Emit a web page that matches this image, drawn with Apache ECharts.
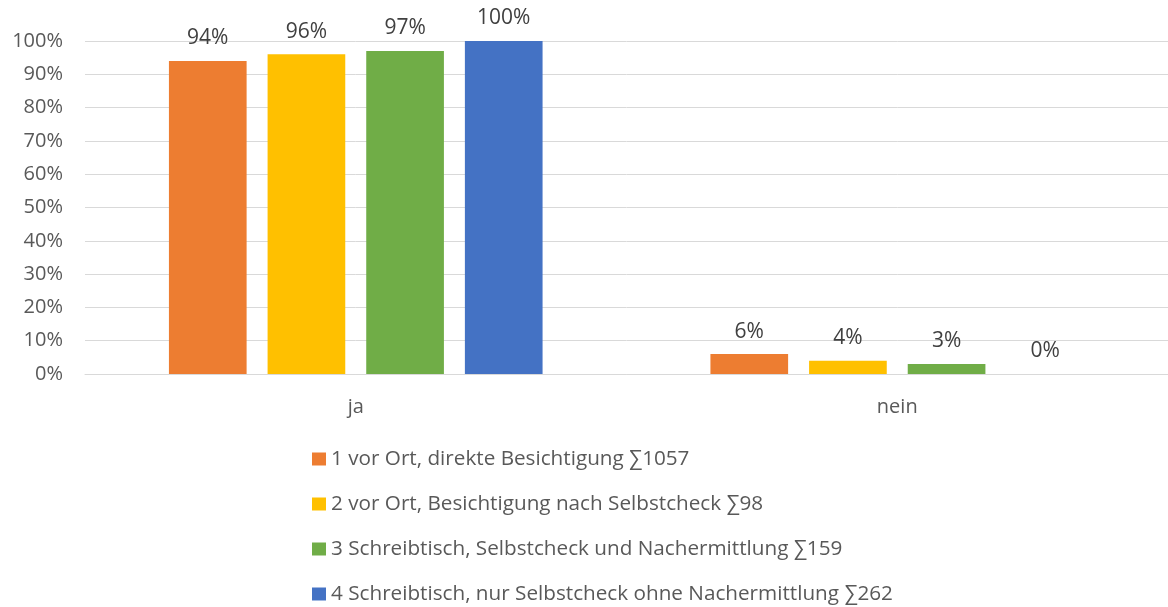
<!DOCTYPE html>
<html>
<head>
    <meta charset="utf-8" />
    <script src="https://cdn.jsdelivr.net/npm/echarts@6/dist/echarts.min.js"></script>
    <style>
        body { margin: 0; background: #fff; }
        #main { width: 1168px; height: 607px; }
    </style>
</head>
<body>
    <div id="main"></div>
    <script type="text/javascript">
        var categories = ['ja', 'nein'];
        var seriesNames = [
            '1 vor Ort, direkte Besichtigung \u22111057',
            '2 vor Ort, Besichtigung nach Selbstcheck \u221198',
            '3 Schreibtisch, Selbstcheck und Nachermittlung \u2211159',
            '4 Schreibtisch, nur Selbstcheck ohne Nachermittlung \u2211262'
        ];
        var seriesValues = [
            [94, 6],
            [96, 4],
            [97, 3],
            [100, 0]
        ];
        var colors = ['#ED7D31', '#FFC000', '#70AD47', '#4472C4'];

        var fontFam = '"Open Sans", "Noto Sans", sans-serif';
        var myChart = echarts.init(document.getElementById('main'));

        var series = [];
        for (var i = 0; i < seriesNames.length; i++) {
            series.push({
                name: seriesNames[i],
                type: 'bar',
                data: seriesValues[i],
                barGap: '27%',
                barCategoryGap: '31%',
                itemStyle: { color: colors[i] },
                label: {
                    show: true,
                    position: 'top',
                    distance: 12,
                    formatter: '{c}%',
                    color: '#404040',
                    fontSize: 21,
                    fontFamily: fontFam
                }
            });
        }

        var option = {
            animation: false,
            color: colors,
            grid: {
                left: 85,
                right: 0,
                top: 41,
                bottom: 233
            },
            legend: {
                orient: 'vertical',
                left: 307,
                top: 443,
                height: 200,
                icon: 'rect',
                itemWidth: 14,
                itemHeight: 13,
                itemGap: 23,
                textStyle: {
                    color: '#595959',
                    fontSize: 20.7,
                    fontFamily: fontFam,
                    lineHeight: 22
                },
                data: seriesNames
            },
            xAxis: {
                type: 'category',
                data: categories,
                axisLine: { lineStyle: { color: '#d9d9d9', width: 1 } },
                axisTick: { show: false },
                axisLabel: {
                    color: '#595959',
                    fontSize: 20,
                    fontFamily: fontFam,
                    margin: 23
                }
            },
            yAxis: {
                type: 'value',
                min: 0,
                max: 100,
                interval: 10,
                axisLine: { show: false },
                axisTick: { show: false },
                splitLine: { lineStyle: { color: '#d9d9d9', width: 1 } },
                axisLabel: {
                    formatter: '{value}%',
                    color: '#595959',
                    fontSize: 20,
                    fontFamily: fontFam,
                    margin: 22
                }
            },
            series: series
        };
        myChart.setOption(option);
    </script>
</body>
</html>
